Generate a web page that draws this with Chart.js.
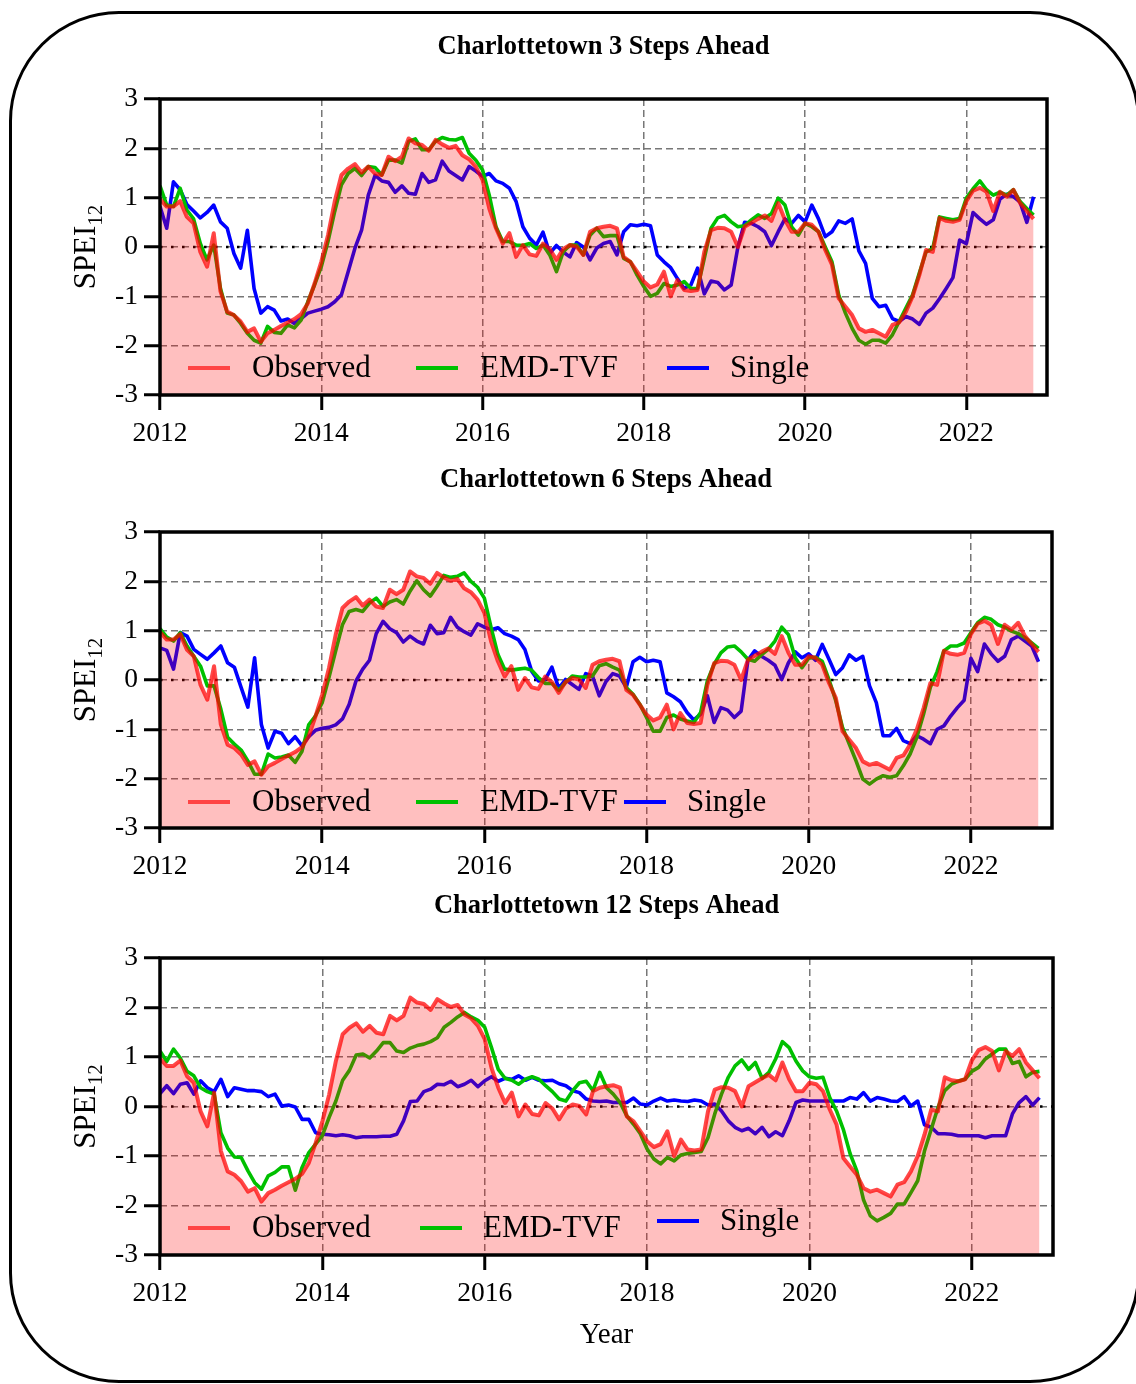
<!DOCTYPE html>
<html>
<head>
<meta charset="utf-8">
<title>Charlottetown SPEI12 forecasts</title>
<script src="https://cdn.jsdelivr.net/npm/chart.js@4.4.1/dist/chart.umd.min.js"></script>
<style>
  html, body { margin: 0; padding: 0; background: #fff; }
  #page { position: relative; width: 1136px; height: 1384px; overflow: hidden; background: #fff; }
  #frame {
    position: absolute; left: 9px; top: 11px; width: 1131px; height: 1372px;
    border: 3px solid #000; border-radius: 110px; box-sizing: border-box;
  }
  .panel { position: absolute; left: 0; width: 1136px; }
  .panel canvas { display: block; }
</style>
</head>
<body>
<div id="page">
  <div id="frame"></div>
  <div class="panel" id="p0"><canvas id="c0"></canvas></div>
  <div class="panel" id="p1"><canvas id="c1"></canvas></div>
  <div class="panel" id="p2"><canvas id="c2"></canvas></div>
</div>
<script>
// ---- data: monthly SPEI12, Jan 2012 .. Nov 2022 ----
const startYear = 2012;
const xTickYears = [2012, 2014, 2016, 2018, 2020, 2022];
const seriesNames = ['Observed', 'EMD-TVF', 'Single'];
const panelTitles = [
  'Charlottetown 3 Steps Ahead',
  'Charlottetown 6 Steps Ahead',
  'Charlottetown 12 Steps Ahead'
];

const observed = [
  0.97, 0.82, 0.82, 0.93, 0.61, 0.48, -0.10, -0.40, 0.28, -0.90, -1.31, -1.38,
  -1.51, -1.72, -1.65, -1.92, -1.75, -1.68, -1.60, -1.53, -1.46, -1.36, -1.14, -0.74,
  -0.30, 0.24, 0.92, 1.46, 1.59, 1.68, 1.51, 1.63, 1.49, 1.46, 1.83, 1.74,
  1.83, 2.20, 2.10, 2.07, 1.95, 2.17, 2.08, 2.01, 2.05, 1.86, 1.78, 1.63,
  1.36, 0.78, 0.38, 0.07, 0.28, -0.20, 0.04, -0.15, -0.18, 0.07, -0.04, -0.26,
  -0.04, 0.04, 0.01, -0.16, 0.31, 0.38, 0.41, 0.43, 0.38, -0.20, -0.30, -0.50,
  -0.70, -0.82, -0.76, -0.50, -1.00, -0.67, -0.87, -0.89, -0.87, -0.10, 0.34, 0.39,
  0.38, 0.31, 0.00, 0.41, 0.49, 0.57, 0.64, 0.53, 0.89, 0.55, 0.31, 0.31,
  0.48, 0.45, 0.31, -0.06, -0.36, -1.04, -1.21, -1.38, -1.65, -1.72, -1.68, -1.75,
  -1.82, -1.58, -1.53, -1.31, -1.00, -0.57, -0.06, -0.10, 0.59, 0.53, 0.51, 0.55,
  0.93, 1.14, 1.20, 1.12, 0.73, 1.12, 1.02, 1.16, 0.89, 0.73, 0.57
];

const emdTvf3 = [
  1.24, 0.85, 0.82, 1.19, 0.75, 0.57, 0.07, -0.26, 0.04, -0.84, -1.34, -1.38,
  -1.55, -1.75, -1.89, -1.95, -1.61, -1.73, -1.75, -1.58, -1.64, -1.48, -1.11, -0.77,
  -0.40, 0.11, 0.72, 1.26, 1.49, 1.59, 1.45, 1.63, 1.61, 1.46, 1.76, 1.76,
  1.70, 2.14, 2.19, 1.97, 1.97, 2.14, 2.22, 2.18, 2.17, 2.22, 1.90, 1.76,
  1.56, 1.05, 0.41, 0.11, 0.11, 0.04, 0.03, 0.07, -0.03, 0.04, -0.16, -0.50,
  -0.10, 0.04, 0.04, -0.16, 0.24, 0.38, 0.21, 0.23, 0.23, -0.23, -0.30, -0.57,
  -0.80, -1.00, -0.94, -0.74, -0.80, -0.77, -0.70, -0.84, -0.84, -0.23, 0.38, 0.59,
  0.64, 0.51, 0.41, 0.43, 0.55, 0.65, 0.58, 0.68, 0.99, 0.85, 0.41, 0.24,
  0.48, 0.41, 0.31, 0.00, -0.30, -0.97, -1.34, -1.65, -1.89, -1.97, -1.89, -1.89,
  -1.95, -1.78, -1.51, -1.24, -0.97, -0.53, -0.10, -0.03, 0.61, 0.58, 0.55, 0.58,
  0.99, 1.18, 1.34, 1.16, 1.05, 1.11, 1.05, 1.16, 0.92, 0.78, 0.65
];

const single3 = [
  0.82, 0.38, 1.32, 1.16, 0.86, 0.73, 0.59, 0.70, 0.85, 0.51, 0.38, -0.13,
  -0.43, 0.34, -0.84, -1.34, -1.21, -1.28, -1.50, -1.46, -1.55, -1.45, -1.34, -1.30,
  -1.26, -1.21, -1.11, -0.97, -0.50, -0.03, 0.34, 1.05, 1.45, 1.34, 1.31, 1.11,
  1.24, 1.09, 1.07, 1.49, 1.31, 1.36, 1.74, 1.54, 1.45, 1.36, 1.63, 1.54,
  1.43, 1.49, 1.34, 1.29, 1.19, 0.92, 0.41, 0.18, 0.04, 0.30, -0.13, 0.03,
  -0.10, -0.20, 0.09, 0.00, -0.26, -0.02, 0.07, 0.11, -0.16, 0.31, 0.45, 0.43,
  0.46, 0.43, -0.16, -0.30, -0.42, -0.64, -0.84, -0.77, -0.43, -0.95, -0.69, -0.72,
  -0.87, -0.77, 0.00, 0.50, 0.48, 0.41, 0.31, 0.03, 0.31, 0.57, 0.48, 0.64,
  0.51, 0.85, 0.57, 0.21, 0.31, 0.53, 0.48, 0.57, -0.08, -0.33, -1.04, -1.21,
  -1.18, -1.45, -1.51, -1.41, -1.46, -1.57, -1.34, -1.24, -1.05, -0.84, -0.62, 0.14,
  0.07, 0.70, 0.57, 0.46, 0.55, 0.97, 1.07, 1.02, 0.91, 0.50, 1.02
];

const emdTvf6 = [
  1.04, 0.87, 0.79, 0.96, 0.69, 0.48, 0.28, -0.12, -0.12, -0.59, -1.16, -1.30,
  -1.42, -1.64, -1.91, -1.91, -1.50, -1.58, -1.56, -1.52, -1.67, -1.45, -0.91, -0.73,
  -0.46, 0.05, 0.59, 1.12, 1.39, 1.43, 1.39, 1.56, 1.66, 1.49, 1.58, 1.63,
  1.54, 1.80, 2.01, 1.83, 1.70, 1.90, 2.12, 2.08, 2.10, 2.17, 2.00, 1.88,
  1.66, 1.06, 0.52, 0.22, 0.20, 0.22, 0.24, 0.20, 0.05, -0.07, -0.07, -0.21,
  -0.05, 0.08, 0.06, 0.06, 0.08, 0.29, 0.33, 0.26, 0.20, -0.15, -0.29, -0.49,
  -0.76, -1.04, -1.04, -0.76, -0.71, -0.79, -0.83, -0.86, -0.66, -0.02, 0.32, 0.55,
  0.67, 0.69, 0.57, 0.42, 0.38, 0.51, 0.62, 0.79, 1.07, 0.92, 0.45, 0.25,
  0.44, 0.46, 0.38, 0.01, -0.42, -0.96, -1.30, -1.64, -2.01, -2.11, -2.01, -1.94,
  -1.97, -1.94, -1.74, -1.50, -1.16, -0.69, -0.15, 0.17, 0.59, 0.69, 0.69, 0.75,
  0.96, 1.16, 1.27, 1.23, 1.12, 1.07, 0.99, 0.94, 0.86, 0.75, 0.64
];

const single6 = [
  0.65, 0.60, 0.22, 0.96, 0.89, 0.62, 0.52, 0.42, 0.55, 0.69, 0.35, 0.26,
  -0.15, -0.55, 0.45, -0.90, -1.38, -1.04, -1.08, -1.29, -1.15, -1.33, -1.15, -1.02,
  -0.98, -0.96, -0.91, -0.79, -0.49, -0.02, 0.22, 0.40, 0.94, 1.19, 1.04, 0.96,
  0.77, 0.89, 0.79, 0.73, 1.11, 0.94, 0.96, 1.27, 1.07, 0.98, 0.91, 1.14,
  1.07, 1.02, 1.06, 0.94, 0.89, 0.82, 0.62, 0.18, -0.02, 0.01, 0.26, -0.17,
  0.01, -0.09, -0.19, 0.13, 0.08, -0.32, -0.03, 0.13, 0.08, -0.15, 0.37, 0.46,
  0.37, 0.40, 0.37, -0.26, -0.34, -0.44, -0.66, -0.81, -0.69, -0.32, -0.86, -0.56,
  -0.61, -0.76, -0.63, 0.40, 0.59, 0.48, 0.40, 0.30, 0.01, 0.35, 0.57, 0.45,
  0.53, 0.40, 0.72, 0.42, 0.11, 0.25, 0.51, 0.40, 0.48, -0.12, -0.46, -1.13,
  -1.13, -0.98, -1.23, -1.29, -1.13, -1.20, -1.29, -1.00, -0.93, -0.73, -0.56, -0.41,
  0.44, 0.17, 0.73, 0.53, 0.38, 0.48, 0.82, 0.89, 0.79, 0.69, 0.37
];

const emdTvf12 = [
  1.12, 0.91, 1.16, 0.98, 0.71, 0.62, 0.38, 0.30, 0.25, -0.53, -0.84, -1.02,
  -1.03, -1.30, -1.54, -1.67, -1.40, -1.33, -1.22, -1.22, -1.69, -1.23, -0.93, -0.76,
  -0.59, -0.22, 0.11, 0.53, 0.73, 1.04, 1.06, 0.98, 1.12, 1.29, 1.29, 1.12,
  1.09, 1.18, 1.23, 1.26, 1.31, 1.39, 1.60, 1.70, 1.81, 1.90, 1.81, 1.74,
  1.60, 1.19, 0.75, 0.57, 0.53, 0.45, 0.55, 0.60, 0.55, 0.42, 0.30, 0.15,
  0.11, 0.32, 0.48, 0.51, 0.32, 0.69, 0.38, 0.25, 0.08, -0.19, -0.36, -0.55,
  -0.86, -1.06, -1.16, -1.03, -1.10, -0.98, -0.95, -0.93, -0.91, -0.63, -0.15, 0.25,
  0.59, 0.82, 0.94, 0.75, 0.89, 0.57, 0.69, 0.96, 1.31, 1.19, 0.92, 0.72,
  0.60, 0.57, 0.59, 0.18, -0.09, -0.46, -0.95, -1.30, -1.89, -2.21, -2.31, -2.24,
  -2.16, -1.97, -1.97, -1.74, -1.50, -0.90, -0.46, -0.02, 0.32, 0.45, 0.51, 0.55,
  0.71, 0.79, 0.96, 1.06, 1.16, 1.16, 0.87, 0.91, 0.60, 0.69, 0.71
];

const single12 = [
  0.26, 0.42, 0.26, 0.45, 0.48, 0.25, 0.52, 0.38, 0.30, 0.55, 0.20, 0.38,
  0.35, 0.32, 0.32, 0.30, 0.20, 0.25, 0.01, 0.03, -0.01, -0.26, -0.26, -0.53,
  -0.56, -0.57, -0.59, -0.57, -0.59, -0.63, -0.61, -0.61, -0.61, -0.60, -0.60, -0.56,
  -0.29, 0.10, 0.11, 0.30, 0.35, 0.45, 0.44, 0.51, 0.40, 0.45, 0.53, 0.40,
  0.52, 0.60, 0.51, 0.57, 0.55, 0.62, 0.53, 0.59, 0.53, 0.52, 0.53, 0.46,
  0.42, 0.32, 0.28, 0.15, 0.11, 0.10, 0.11, 0.08, 0.08, 0.08, 0.17, 0.05,
  0.03, 0.11, 0.17, 0.11, 0.13, 0.11, 0.10, 0.13, 0.11, 0.03, 0.05, -0.09,
  -0.29, -0.42, -0.49, -0.44, -0.55, -0.42, -0.61, -0.51, -0.59, -0.29, 0.08, 0.13,
  0.11, 0.11, 0.11, 0.11, 0.11, 0.11, 0.18, 0.15, 0.28, 0.11, 0.18, 0.15,
  0.11, 0.10, 0.20, 0.01, 0.11, -0.37, -0.42, -0.55, -0.55, -0.56, -0.59, -0.59,
  -0.59, -0.59, -0.63, -0.59, -0.59, -0.59, -0.15, 0.08, 0.20, 0.03, 0.18
];

const forecasts = [
  [emdTvf3, single3],
  [emdTvf6, single6],
  [emdTvf12, single12]
];

// ---- styling ----
const SERIF = '"Liberation Serif", "Times New Roman", Times, serif';
const lineColors = ['rgba(255,0,0,0.72)', '#00C000', '#0000FF'];
const lineWidths = [4, 3.6, 3.6];
const keyColors = ['#FF4545', '#00C000', '#0000FF'];

// page geometry of each panel (canvas box and plot box)
const panelBoxes = [
  { top: 20,  height: 435, plotTop: 99,  plotBottom: 395,  plotRight: 1047,
    key: [[188, 368, 252], [416, 368, 480], [667, 368, 730]] },
  { top: 455, height: 425, plotTop: 532, plotBottom: 828,  plotRight: 1052,
    key: [[188, 802, 252], [416, 802, 480], [624, 802, 687]] },
  { top: 880, height: 500, plotTop: 958, plotBottom: 1255, plotRight: 1053,
    key: [[188, 1228, 252], [420, 1228, 483], [657, 1221, 720]] }
];

const toPoints = vals => vals.map((v, i) => ({ x: startYear + i / 12, y: v }));

// decorations: zero reference line, frame, key, titles
const panelDecor = {
  id: 'panelDecor',
  beforeDatasetsDraw(chart) {
    const { ctx, chartArea, scales } = chart;
    const y0 = scales.y.getPixelForValue(0);
    ctx.save();
    ctx.strokeStyle = '#000';
    ctx.lineWidth = 2.6;
    ctx.setLineDash([2.5, 8.5]);
    ctx.beginPath();
    ctx.moveTo(chartArea.left, y0);
    ctx.lineTo(chartArea.right, y0);
    ctx.stroke();
    ctx.restore();
  },
  afterDatasetsDraw(chart, args, opts) {
    const { ctx, chartArea } = chart;
    ctx.save();
    // key
    ctx.font = '31px ' + SERIF;
    ctx.textBaseline = 'middle';
    ctx.textAlign = 'left';
    chart.data.datasets.forEach((ds, i) => {
      const [sx, sy, tx] = opts.key[i];
      const y = sy - opts.offsetY;
      ctx.strokeStyle = keyColors[i];
      ctx.lineWidth = 4;
      ctx.beginPath();
      ctx.moveTo(sx, y);
      ctx.lineTo(sx + 42, y);
      ctx.stroke();
      ctx.fillStyle = '#000';
      ctx.fillText(ds.label, tx, y + 1);
    });
    // plot frame
    ctx.strokeStyle = '#000';
    ctx.lineWidth = 3.5;
    ctx.strokeRect(chartArea.left, chartArea.top, chartArea.right - chartArea.left, chartArea.bottom - chartArea.top);
    ctx.restore();
  },
  afterDraw(chart, args, opts) {
    const { ctx, chartArea } = chart;
    const cx = (chartArea.left + chartArea.right) / 2;
    const cy = (chartArea.top + chartArea.bottom) / 2;
    ctx.save();
    ctx.fillStyle = '#000';
    // panel heading
    ctx.font = 'bold 26.5px ' + SERIF;
    ctx.textAlign = 'center';
    ctx.textBaseline = 'middle';
    ctx.fillText(opts.title, cx, chartArea.top - 52);
    // y axis title with subscript
    ctx.translate(95, cy);
    ctx.rotate(-Math.PI / 2);
    ctx.textAlign = 'left';
    ctx.textBaseline = 'alphabetic';
    ctx.font = '31px ' + SERIF;
    const wMain = ctx.measureText('SPEI').width;
    ctx.font = '21px ' + SERIF;
    const wSub = ctx.measureText('12').width;
    const x0 = -(wMain + wSub) / 2;
    ctx.font = '31px ' + SERIF;
    ctx.fillText('SPEI', x0, 0);
    ctx.font = '21px ' + SERIF;
    ctx.fillText('12', x0 + wMain, 7);
    ctx.restore();
    if (opts.xTitle) {
      ctx.save();
      ctx.fillStyle = '#000';
      ctx.font = '29px ' + SERIF;
      ctx.textAlign = 'center';
      ctx.textBaseline = 'middle';
      ctx.fillText(opts.xTitle, cx, chartArea.bottom + 80);
      ctx.restore();
    }
  }
};

panelBoxes.forEach((box, p) => {
  const holder = document.getElementById('p' + p);
  holder.style.top = box.top + 'px';
  holder.style.height = box.height + 'px';
  const canvas = document.getElementById('c' + p);
  canvas.width = 1136;
  canvas.height = box.height;

  const [emd, single] = forecasts[p];
  const seriesValues = [observed, emd, single];
  const datasets = seriesValues.map((vals, i) => ({
    label: seriesNames[i],
    data: toPoints(vals),
    borderColor: lineColors[i],
    borderWidth: lineWidths[i],
    borderJoinStyle: 'round',
    pointRadius: 0,
    tension: 0,
    fill: i === 0 ? 'start' : false,
    backgroundColor: i === 0 ? 'rgba(255,0,0,0.25)' : 'transparent'
  }));

  const axisH = box.height - (box.plotBottom - box.top);

  new Chart(canvas, {
    type: 'line',
    data: { datasets },
    plugins: [panelDecor],
    options: {
      responsive: false,
      animation: false,
      devicePixelRatio: 1,
      layout: { padding: { top: box.plotTop - box.top, right: 1136 - box.plotRight, bottom: 0, left: 0 } },
      scales: {
        x: {
          type: 'linear',
          min: 2012,
          max: 2023,
          afterBuildTicks: scale => { scale.ticks = xTickYears.map(v => ({ value: v })); },
          afterFit: scale => { scale.height = axisH; },
          grid: {
            color: '#777', lineWidth: 1.5,
            tickColor: '#000', tickWidth: 3, tickLength: 15, tickBorderDash: []
          },
          border: { display: false, dash: [7, 4] },
          ticks: {
            color: '#000', padding: 7, maxRotation: 0, autoSkip: false,
            font: { family: SERIF, size: 27.5 },
            callback: v => String(v)
          }
        },
        y: {
          min: -3,
          max: 3,
          afterFit: scale => { scale.width = 160; },
          grid: {
            color: '#777', lineWidth: 1.5,
            tickColor: '#000', tickWidth: 3, tickLength: 16, tickBorderDash: []
          },
          border: { display: false, dash: [7, 4] },
          ticks: {
            color: '#000', padding: 6, stepSize: 1,
            font: { family: SERIF, size: 27.5 }
          }
        }
      },
      plugins: {
        legend: { display: false },
        tooltip: { enabled: false },
        filler: { drawTime: 'beforeDatasetDraw' },
        panelDecor: {
          title: panelTitles[p],
          key: box.key,
          offsetY: box.top,
          xTitle: p === 2 ? 'Year' : ''
        }
      }
    }
  });
});
</script>
</body>
</html>
